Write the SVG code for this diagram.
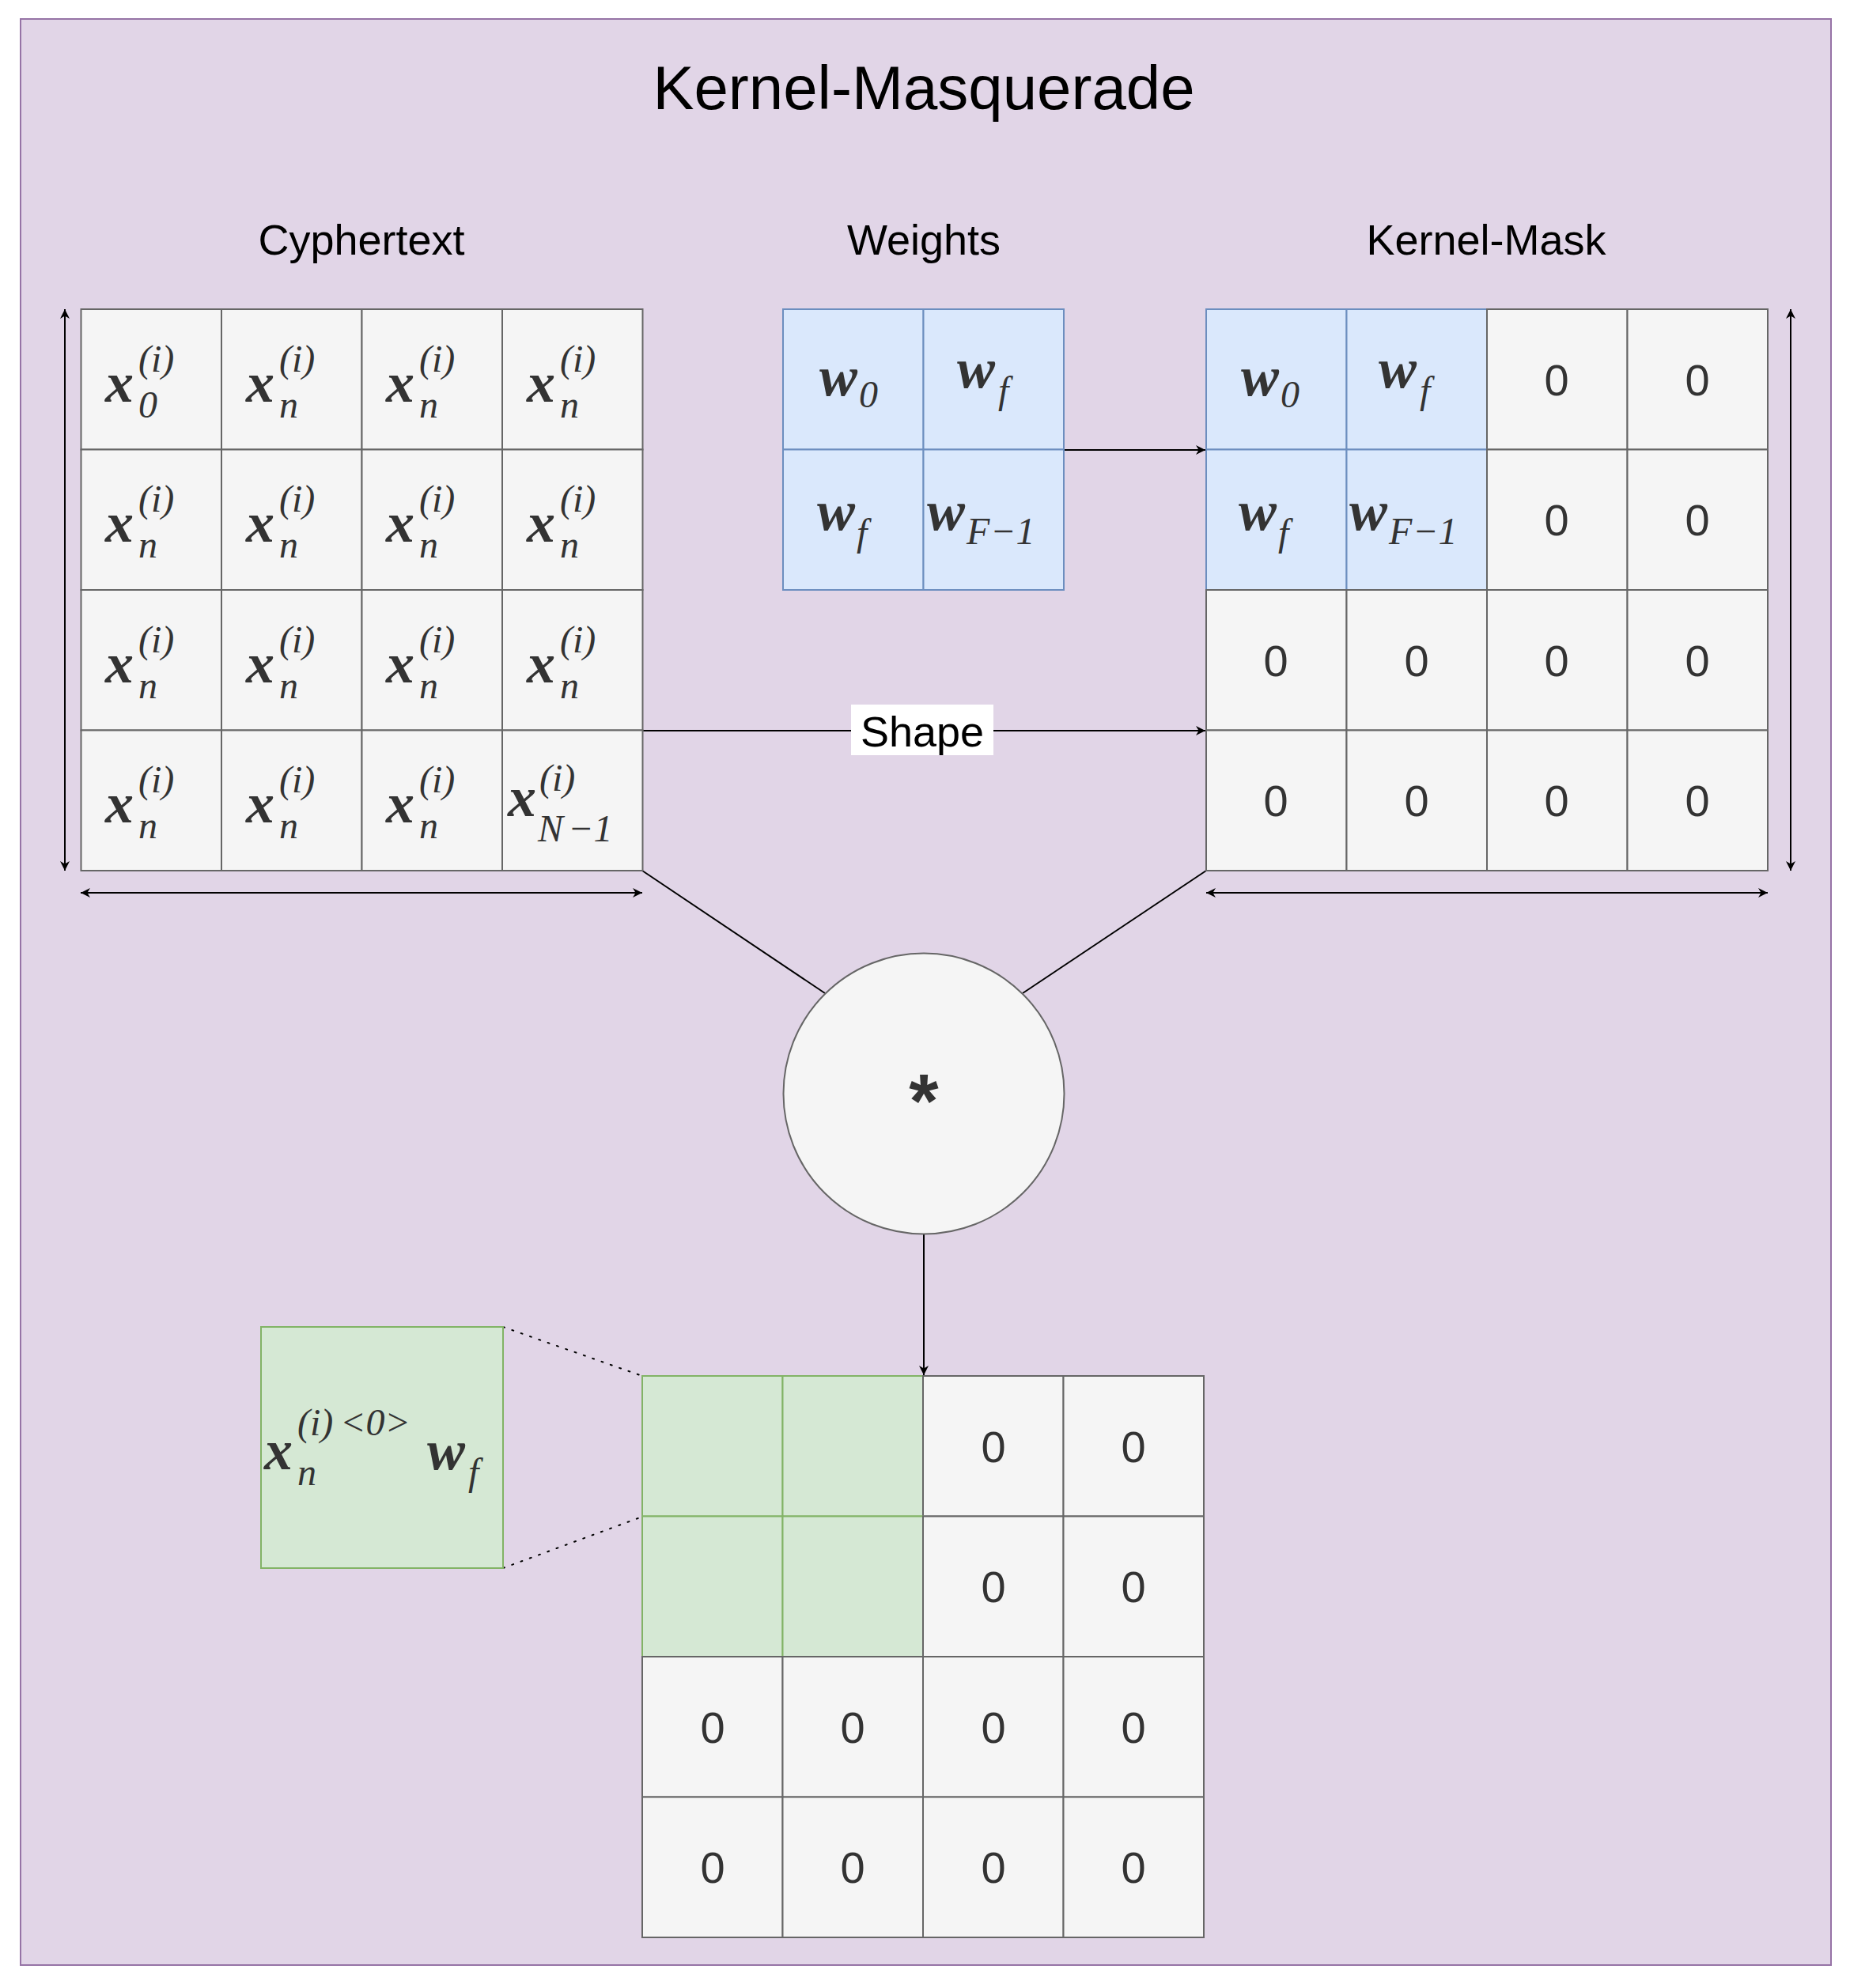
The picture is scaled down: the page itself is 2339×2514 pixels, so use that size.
<svg xmlns="http://www.w3.org/2000/svg" width="2339" height="2514" viewBox="0 0 2339 2514">
<style>
.c{fill:#f5f5f5;stroke:#666;stroke-width:2}
.b{fill:#dae8fc;stroke:#6c8ebf;stroke-width:2}
.g{fill:#d5e8d4;stroke:#82b366;stroke-width:2}
.m{font-family:"Liberation Serif","DejaVu Serif",serif;font-style:italic;font-weight:bold;fill:#333;font-size:72px}
.s{font-family:"Liberation Serif","DejaVu Serif",serif;font-style:italic;fill:#333;font-size:48px}
.z{font-family:"Liberation Sans",Arial,sans-serif;fill:#333;font-size:56px;text-anchor:middle}
.l{font-family:"Liberation Sans",Arial,sans-serif;fill:#000;font-size:54px;text-anchor:middle}
.ln{stroke:#000;stroke-width:2;fill:none}
</style>
<defs>
<marker id="a" viewBox="0 0 10 10" refX="10" refY="5" markerWidth="12" markerHeight="12" orient="auto-start-reverse" markerUnits="userSpaceOnUse"><path d="M0,0 L10,5 L0,10 L3,5 z" fill="#000"/></marker>
<g id="xn"><text class="m" x="-58" y="28">x</text><text class="s" x="-16" y="-10">(i)</text><text class="s" x="-16" y="48">n</text></g>
</defs>
<rect x="26" y="24" width="2289" height="2461" fill="#e1d5e7" stroke="#9673a6" stroke-width="2"/>
<text x="1168" y="138" font-family="Liberation Sans,Arial,sans-serif" font-size="78" text-anchor="middle">Kernel-Masquerade</text>
<text class="l" x="457" y="322">Cyphertext</text>
<text class="l" x="1168" y="322">Weights</text>
<text class="l" x="1879" y="322">Kernel-Mask</text>

<g id="connectors">
<line class="ln" x1="82" y1="391" x2="82" y2="1101" marker-start="url(#a)" marker-end="url(#a)"/>
<line class="ln" x1="102" y1="1129" x2="812" y2="1129" marker-start="url(#a)" marker-end="url(#a)"/>
<line class="ln" x1="2264" y1="391" x2="2264" y2="1101" marker-start="url(#a)" marker-end="url(#a)"/>
<line class="ln" x1="1525" y1="1129" x2="2235" y2="1129" marker-start="url(#a)" marker-end="url(#a)"/>
<line class="ln" x1="1345" y1="569" x2="1524" y2="569" marker-end="url(#a)"/>
<line class="ln" x1="812" y1="924" x2="1524" y2="924" marker-end="url(#a)"/>
<line class="ln" x1="812" y1="1101" x2="1043" y2="1256"/>
<line class="ln" x1="1525" y1="1101" x2="1293" y2="1256"/>
<line class="ln" x1="1168" y1="1560" x2="1168" y2="1739" marker-end="url(#a)"/>
<line class="ln" x1="636" y1="1678" x2="812" y2="1740" stroke-width="4" stroke-dasharray="2 10" stroke-linecap="round"/>
<line class="ln" x1="636" y1="1983" x2="812" y2="1918" stroke-width="4" stroke-dasharray="2 10" stroke-linecap="round"/>
<rect x="1076" y="891" width="180" height="64" fill="#fff"/>
<text class="l" x="1166" y="944" font-size="60">Shape</text>
</g>

<g id="cyphertext">
<rect class="c" x="102.5" y="391" width="177.5" height="177.5"/><rect class="c" x="280" y="391" width="177.5" height="177.5"/><rect class="c" x="457.5" y="391" width="177.5" height="177.5"/><rect class="c" x="635" y="391" width="177.5" height="177.5"/>
<rect class="c" x="102.5" y="568.5" width="177.5" height="177.5"/><rect class="c" x="280" y="568.5" width="177.5" height="177.5"/><rect class="c" x="457.5" y="568.5" width="177.5" height="177.5"/><rect class="c" x="635" y="568.5" width="177.5" height="177.5"/>
<rect class="c" x="102.5" y="746" width="177.5" height="177.5"/><rect class="c" x="280" y="746" width="177.5" height="177.5"/><rect class="c" x="457.5" y="746" width="177.5" height="177.5"/><rect class="c" x="635" y="746" width="177.5" height="177.5"/>
<rect class="c" x="102.5" y="923.5" width="177.5" height="177.5"/><rect class="c" x="280" y="923.5" width="177.5" height="177.5"/><rect class="c" x="457.5" y="923.5" width="177.5" height="177.5"/><rect class="c" x="635" y="923.5" width="177.5" height="177.5"/>
<g transform="translate(191,480)"><text class="m" x="-58" y="28">x</text><text class="s" x="-16" y="-10">(i)</text><text class="s" x="-16" y="48" font-style="normal">0</text></g>
<use href="#xn" x="369" y="480"/><use href="#xn" x="546" y="480"/><use href="#xn" x="724" y="480"/>
<use href="#xn" x="191" y="657"/><use href="#xn" x="369" y="657"/><use href="#xn" x="546" y="657"/><use href="#xn" x="724" y="657"/>
<use href="#xn" x="191" y="835"/><use href="#xn" x="369" y="835"/><use href="#xn" x="546" y="835"/><use href="#xn" x="724" y="835"/>
<use href="#xn" x="191" y="1012"/><use href="#xn" x="369" y="1012"/><use href="#xn" x="546" y="1012"/>
<g transform="translate(724,1012)"><text class="m" x="-82" y="20">x</text><text class="s" x="-42" y="-12">(i)</text><text class="s" x="-44" y="52">N</text><text class="s" x="-6" y="52" font-style="normal">−1</text></g>
</g>

<g id="weights">
<rect class="b" x="990" y="391" width="177.5" height="177.5"/><rect class="b" x="1167.5" y="391" width="177.5" height="177.5"/>
<rect class="b" x="990" y="568.5" width="177.5" height="177.5"/><rect class="b" x="1167.5" y="568.5" width="177.5" height="177.5"/>
<text class="m" x="1036" y="500">w</text><text class="s" x="1086" y="515" font-style="normal">0</text>
<text class="m" x="1210" y="490">w</text><text class="s" x="1262" y="510">f</text>
<text class="m" x="1033" y="670">w</text><text class="s" x="1083" y="690">f</text>
<text class="m" x="1172" y="670">w</text><text class="s" x="1222" y="688">F</text><text class="s" x="1252" y="688" font-style="normal">−1</text>
</g>

<g id="kernel-mask">
<rect class="b" x="1525" y="391" width="177.5" height="177.5"/><rect class="b" x="1702.5" y="391" width="177.5" height="177.5"/><rect class="c" x="1880" y="391" width="177.5" height="177.5"/><rect class="c" x="2057.5" y="391" width="177.5" height="177.5"/>
<rect class="b" x="1525" y="568.5" width="177.5" height="177.5"/><rect class="b" x="1702.5" y="568.5" width="177.5" height="177.5"/><rect class="c" x="1880" y="568.5" width="177.5" height="177.5"/><rect class="c" x="2057.5" y="568.5" width="177.5" height="177.5"/>
<rect class="c" x="1525" y="746" width="177.5" height="177.5"/><rect class="c" x="1702.5" y="746" width="177.5" height="177.5"/><rect class="c" x="1880" y="746" width="177.5" height="177.5"/><rect class="c" x="2057.5" y="746" width="177.5" height="177.5"/>
<rect class="c" x="1525" y="923.5" width="177.5" height="177.5"/><rect class="c" x="1702.5" y="923.5" width="177.5" height="177.5"/><rect class="c" x="1880" y="923.5" width="177.5" height="177.5"/><rect class="c" x="2057.5" y="923.5" width="177.5" height="177.5"/>
<text class="m" x="1569" y="500">w</text><text class="s" x="1619" y="515" font-style="normal">0</text>
<text class="m" x="1743" y="490">w</text><text class="s" x="1795" y="510">f</text>
<text class="m" x="1566" y="670">w</text><text class="s" x="1616" y="690">f</text>
<text class="m" x="1706" y="670">w</text><text class="s" x="1756" y="688">F</text><text class="s" x="1786" y="688" font-style="normal">−1</text>
<text class="z" x="1968" y="500">0</text><text class="z" x="2146" y="500">0</text>
<text class="z" x="1968" y="677">0</text><text class="z" x="2146" y="677">0</text>
<text class="z" x="1613" y="855">0</text><text class="z" x="1791" y="855">0</text><text class="z" x="1968" y="855">0</text><text class="z" x="2146" y="855">0</text>
<text class="z" x="1613" y="1032">0</text><text class="z" x="1791" y="1032">0</text><text class="z" x="1968" y="1032">0</text><text class="z" x="2146" y="1032">0</text>
</g>

<g id="conv">
<circle cx="1168" cy="1383" r="177.5" fill="#f5f5f5" stroke="#666" stroke-width="2"/>
<text x="1168" y="1425" font-family="Liberation Sans,Arial,sans-serif" font-weight="bold" font-size="96" fill="#333" text-anchor="middle">*</text>
</g>

<g id="result">
<rect class="g" x="812" y="1740" width="177.5" height="177.5"/><rect class="g" x="989.5" y="1740" width="177.5" height="177.5"/><rect class="c" x="1167" y="1740" width="177.5" height="177.5"/><rect class="c" x="1344.5" y="1740" width="177.5" height="177.5"/>
<rect class="g" x="812" y="1917.5" width="177.5" height="177.5"/><rect class="g" x="989.5" y="1917.5" width="177.5" height="177.5"/><rect class="c" x="1167" y="1917.5" width="177.5" height="177.5"/><rect class="c" x="1344.5" y="1917.5" width="177.5" height="177.5"/>
<rect class="c" x="812" y="2095" width="177.5" height="177.5"/><rect class="c" x="989.5" y="2095" width="177.5" height="177.5"/><rect class="c" x="1167" y="2095" width="177.5" height="177.5"/><rect class="c" x="1344.5" y="2095" width="177.5" height="177.5"/>
<rect class="c" x="812" y="2272.5" width="177.5" height="177.5"/><rect class="c" x="989.5" y="2272.5" width="177.5" height="177.5"/><rect class="c" x="1167" y="2272.5" width="177.5" height="177.5"/><rect class="c" x="1344.5" y="2272.5" width="177.5" height="177.5"/>
<text class="z" x="1256" y="1849">0</text><text class="z" x="1433" y="1849">0</text>
<text class="z" x="1256" y="2026">0</text><text class="z" x="1433" y="2026">0</text>
<text class="z" x="901" y="2204">0</text><text class="z" x="1078" y="2204">0</text><text class="z" x="1256" y="2204">0</text><text class="z" x="1433" y="2204">0</text>
<text class="z" x="901" y="2381">0</text><text class="z" x="1078" y="2381">0</text><text class="z" x="1256" y="2381">0</text><text class="z" x="1433" y="2381">0</text>
</g>

<g id="detail">
<rect class="g" x="330" y="1678" width="306" height="305"/>
<text class="m" x="334" y="1858" fill="#000">x</text>
<text class="s" x="376" y="1815" fill="#000">(i)</text>
<text class="s" x="430" y="1815" fill="#000" font-style="normal">&lt;0&gt;</text>
<text class="s" x="376" y="1878" fill="#000">n</text>
<text class="m" x="540" y="1858" fill="#000">w</text>
<text class="s" x="592" y="1878" fill="#000">f</text>
</g>
</svg>
